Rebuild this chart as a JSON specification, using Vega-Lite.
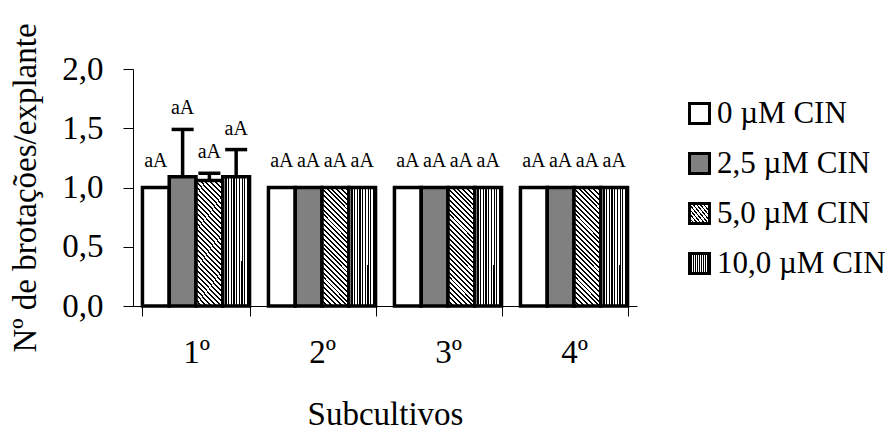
{
  "$schema": "https://vega.github.io/schema/vega-lite/v6.json",
  "width": 504,
  "height": 237,
  "autosize": "none",
  "padding": {"left": 133, "top": 69, "right": 251, "bottom": 124},
  "background": "white",
  "config": {
    "font": "Liberation Serif",
    "view": {"stroke": null},
    "axis": {
      "domainColor": "#000", "tickColor": "#000", "labelColor": "#000", "titleColor": "#000",
      "labelFontSize": 33, "titleFontSize": 33, "titleFontWeight": "normal",
      "grid": false, "tickSize": 10, "domainWidth": 1, "tickWidth": 1, "labelOverlap": false
    },
    "legend": {"labelColor": "#000"}
  },
  "params": [
    {"name": "hatchD", "expr": "{gradient:'linear',x1:0,y1:1,x2:0.265,y2:-0.167,stops:[{offset:0,color:'#000'},{offset:0.0133,color:'#000'},{offset:0.0133,color:'#fff'},{offset:0.0333,color:'#fff'},{offset:0.0333,color:'#000'},{offset:0.0466,color:'#000'},{offset:0.0466,color:'#fff'},{offset:0.0667,color:'#fff'},{offset:0.0667,color:'#000'},{offset:0.08,color:'#000'},{offset:0.08,color:'#fff'},{offset:0.1,color:'#fff'},{offset:0.1,color:'#000'},{offset:0.1133,color:'#000'},{offset:0.1133,color:'#fff'},{offset:0.1333,color:'#fff'},{offset:0.1333,color:'#000'},{offset:0.1466,color:'#000'},{offset:0.1466,color:'#fff'},{offset:0.1667,color:'#fff'},{offset:0.1667,color:'#000'},{offset:0.18,color:'#000'},{offset:0.18,color:'#fff'},{offset:0.2,color:'#fff'},{offset:0.2,color:'#000'},{offset:0.2133,color:'#000'},{offset:0.2133,color:'#fff'},{offset:0.2333,color:'#fff'},{offset:0.2333,color:'#000'},{offset:0.2466,color:'#000'},{offset:0.2466,color:'#fff'},{offset:0.2667,color:'#fff'},{offset:0.2667,color:'#000'},{offset:0.28,color:'#000'},{offset:0.28,color:'#fff'},{offset:0.3,color:'#fff'},{offset:0.3,color:'#000'},{offset:0.3133,color:'#000'},{offset:0.3133,color:'#fff'},{offset:0.3333,color:'#fff'},{offset:0.3333,color:'#000'},{offset:0.3466,color:'#000'},{offset:0.3466,color:'#fff'},{offset:0.3667,color:'#fff'},{offset:0.3667,color:'#000'},{offset:0.38,color:'#000'},{offset:0.38,color:'#fff'},{offset:0.4,color:'#fff'},{offset:0.4,color:'#000'},{offset:0.4133,color:'#000'},{offset:0.4133,color:'#fff'},{offset:0.4333,color:'#fff'},{offset:0.4333,color:'#000'},{offset:0.4466,color:'#000'},{offset:0.4466,color:'#fff'},{offset:0.4667,color:'#fff'},{offset:0.4667,color:'#000'},{offset:0.48,color:'#000'},{offset:0.48,color:'#fff'},{offset:0.5,color:'#fff'},{offset:0.5,color:'#000'},{offset:0.5133,color:'#000'},{offset:0.5133,color:'#fff'},{offset:0.5333,color:'#fff'},{offset:0.5333,color:'#000'},{offset:0.5466,color:'#000'},{offset:0.5466,color:'#fff'},{offset:0.5667,color:'#fff'},{offset:0.5667,color:'#000'},{offset:0.58,color:'#000'},{offset:0.58,color:'#fff'},{offset:0.6,color:'#fff'},{offset:0.6,color:'#000'},{offset:0.6133,color:'#000'},{offset:0.6133,color:'#fff'},{offset:0.6333,color:'#fff'},{offset:0.6333,color:'#000'},{offset:0.6466,color:'#000'},{offset:0.6466,color:'#fff'},{offset:0.6667,color:'#fff'},{offset:0.6667,color:'#000'},{offset:0.68,color:'#000'},{offset:0.68,color:'#fff'},{offset:0.7,color:'#fff'},{offset:0.7,color:'#000'},{offset:0.7133,color:'#000'},{offset:0.7133,color:'#fff'},{offset:0.7333,color:'#fff'},{offset:0.7333,color:'#000'},{offset:0.7466,color:'#000'},{offset:0.7466,color:'#fff'},{offset:0.7667,color:'#fff'},{offset:0.7667,color:'#000'},{offset:0.78,color:'#000'},{offset:0.78,color:'#fff'},{offset:0.8,color:'#fff'},{offset:0.8,color:'#000'},{offset:0.8133,color:'#000'},{offset:0.8133,color:'#fff'},{offset:0.8333,color:'#fff'},{offset:0.8333,color:'#000'},{offset:0.8466,color:'#000'},{offset:0.8466,color:'#fff'},{offset:0.8667,color:'#fff'},{offset:0.8667,color:'#000'},{offset:0.88,color:'#000'},{offset:0.88,color:'#fff'},{offset:0.9,color:'#fff'},{offset:0.9,color:'#000'},{offset:0.9133,color:'#000'},{offset:0.9133,color:'#fff'},{offset:0.9333,color:'#fff'},{offset:0.9333,color:'#000'},{offset:0.9466,color:'#000'},{offset:0.9466,color:'#fff'},{offset:0.9667,color:'#fff'},{offset:0.9667,color:'#000'},{offset:0.98,color:'#000'},{offset:0.98,color:'#fff'},{offset:1,color:'#fff'}]}"},
    {"name": "hatchV", "expr": "{gradient:'linear',x1:0,y1:0,x2:1,y2:0.001,stops:[{offset:0,color:'#000'},{offset:0.045,color:'#000'},{offset:0.045,color:'#fff'},{offset:0.1,color:'#fff'},{offset:0.1,color:'#000'},{offset:0.145,color:'#000'},{offset:0.145,color:'#fff'},{offset:0.2,color:'#fff'},{offset:0.2,color:'#000'},{offset:0.245,color:'#000'},{offset:0.245,color:'#fff'},{offset:0.3,color:'#fff'},{offset:0.3,color:'#000'},{offset:0.345,color:'#000'},{offset:0.345,color:'#fff'},{offset:0.4,color:'#fff'},{offset:0.4,color:'#000'},{offset:0.445,color:'#000'},{offset:0.445,color:'#fff'},{offset:0.5,color:'#fff'},{offset:0.5,color:'#000'},{offset:0.545,color:'#000'},{offset:0.545,color:'#fff'},{offset:0.6,color:'#fff'},{offset:0.6,color:'#000'},{offset:0.645,color:'#000'},{offset:0.645,color:'#fff'},{offset:0.7,color:'#fff'},{offset:0.7,color:'#000'},{offset:0.745,color:'#000'},{offset:0.745,color:'#fff'},{offset:0.8,color:'#fff'},{offset:0.8,color:'#000'},{offset:0.845,color:'#000'},{offset:0.845,color:'#fff'},{offset:0.9,color:'#fff'},{offset:0.9,color:'#000'},{offset:0.945,color:'#000'},{offset:0.945,color:'#fff'},{offset:1,color:'#fff'}]}"}
  ],
  "data": {
    "values": [
      {"sub": "1º", "trat": "0 µM CIN", "valor": 1.0, "sup": null, "letra": "aA"},
      {"sub": "1º", "trat": "2,5 µM CIN", "valor": 1.09, "sup": 1.49, "letra": "aA"},
      {"sub": "1º", "trat": "5,0 µM CIN", "valor": 1.06, "sup": 1.12, "letra": "aA"},
      {"sub": "1º", "trat": "10,0 µM CIN", "valor": 1.09, "sup": 1.32, "letra": "aA"},
      {"sub": "2º", "trat": "0 µM CIN", "valor": 1.0, "sup": null, "letra": "aA"},
      {"sub": "2º", "trat": "2,5 µM CIN", "valor": 1.0, "sup": null, "letra": "aA"},
      {"sub": "2º", "trat": "5,0 µM CIN", "valor": 1.0, "sup": null, "letra": "aA"},
      {"sub": "2º", "trat": "10,0 µM CIN", "valor": 1.0, "sup": null, "letra": "aA"},
      {"sub": "3º", "trat": "0 µM CIN", "valor": 1.0, "sup": null, "letra": "aA"},
      {"sub": "3º", "trat": "2,5 µM CIN", "valor": 1.0, "sup": null, "letra": "aA"},
      {"sub": "3º", "trat": "5,0 µM CIN", "valor": 1.0, "sup": null, "letra": "aA"},
      {"sub": "3º", "trat": "10,0 µM CIN", "valor": 1.0, "sup": null, "letra": "aA"},
      {"sub": "4º", "trat": "0 µM CIN", "valor": 1.0, "sup": null, "letra": "aA"},
      {"sub": "4º", "trat": "2,5 µM CIN", "valor": 1.0, "sup": null, "letra": "aA"},
      {"sub": "4º", "trat": "5,0 µM CIN", "valor": 1.0, "sup": null, "letra": "aA"},
      {"sub": "4º", "trat": "10,0 µM CIN", "valor": 1.0, "sup": null, "letra": "aA"}
    ]
  },
  "encoding": {
    "x": {
      "field": "sub", "type": "nominal", "sort": ["1º", "2º", "3º", "4º"],
      "scale": {"paddingInner": 0.15, "paddingOuter": 0.075},
      "title": "Subcultivos",
      "axis": {"labelAngle": 0, "tickBand": "extent", "labelPadding": 20, "titlePadding": 29}
    },
    "xOffset": {
      "field": "trat", "type": "nominal",
      "sort": ["0 µM CIN", "2,5 µM CIN", "5,0 µM CIN", "10,0 µM CIN"],
      "scale": {"paddingInner": 0, "paddingOuter": 0}
    }
  },
  "layer": [
    {
      "mark": {"type": "bar", "stroke": "black", "strokeWidth": 3.5},
      "encoding": {
        "y": {
          "field": "valor", "type": "quantitative",
          "scale": {"domain": [0, 2], "nice": false},
          "title": "Nº de brotações/explante",
          "axis": {"values": [0, 0.5, 1, 1.5, 2], "labelExpr": "replace(format(datum.value, '.1f'), '.', ',')", "labelPadding": 20, "titlePadding": 19}
        },
        "fill": {
          "field": "trat", "type": "nominal",
          "sort": ["0 µM CIN", "2,5 µM CIN", "5,0 µM CIN", "10,0 µM CIN"],
          "scale": {
            "domain": ["0 µM CIN", "2,5 µM CIN", "5,0 µM CIN", "10,0 µM CIN"],
            "range": ["#ffffff", "#808080", {"expr": "hatchD"}, {"expr": "hatchV"}]
          },
          "legend": {
            "orient": "none", "legendX": 551, "legendY": 29, "title": null, "padding": 0,
            "labelFontSize": 31, "labelLimit": 0, "symbolType": "square", "symbolSize": 400,
            "symbolStrokeColor": "black", "symbolStrokeWidth": 3,
            "rowPadding": 17, "labelOffset": 2
          }
        }
      }
    },
    {
      "transform": [{"filter": "isValid(datum.sup)"}],
      "mark": {"type": "rule", "strokeWidth": 3.5, "color": "black"},
      "encoding": {
        "y": {"field": "valor", "type": "quantitative"},
        "y2": {"field": "sup"}
      }
    },
    {
      "transform": [{"filter": "isValid(datum.sup)"}],
      "mark": {"type": "tick", "orient": "horizontal", "size": 22, "thickness": 3.5, "color": "black", "opacity": 1},
      "encoding": {
        "y": {"field": "sup", "type": "quantitative"}
      }
    },
    {
      "transform": [{"filter": "isValid(datum.sup)"}],
      "mark": {"type": "text", "fontSize": 20, "baseline": "alphabetic", "dy": -15, "color": "black"},
      "encoding": {
        "y": {"field": "sup", "type": "quantitative"},
        "text": {"field": "letra"}
      }
    },
    {
      "transform": [{"filter": "!isValid(datum.sup)"}],
      "mark": {"type": "text", "fontSize": 20, "baseline": "alphabetic", "dy": -21, "color": "black"},
      "encoding": {
        "y": {"field": "valor", "type": "quantitative"},
        "text": {"field": "letra"}
      }
    }
  ]
}
